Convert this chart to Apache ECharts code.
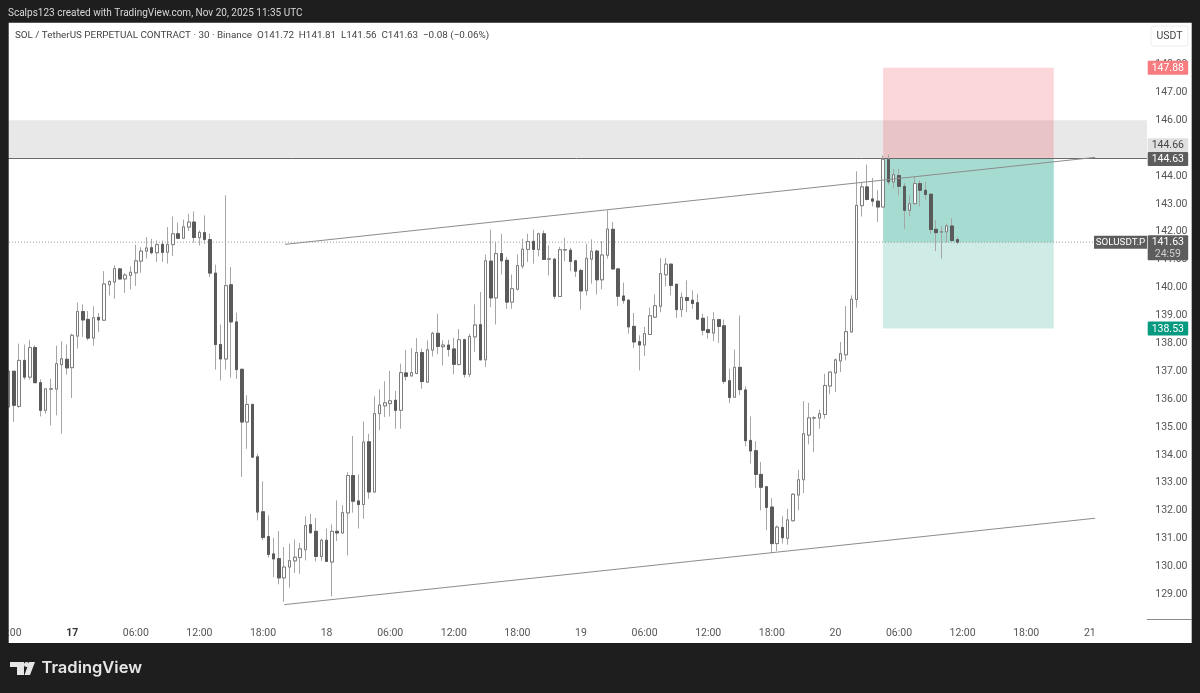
<!DOCTYPE html>
<html>
<head>
<meta charset="utf-8">
<title>SOLUSDT.P</title>
<script src="https://cdn.jsdelivr.net/npm/echarts@6/dist/echarts.min.js"></script>
<style>
  html, body { margin: 0; padding: 0; background: #1e1e1e; }
  #chart { width: 1200px; height: 693px; }
</style>
</head>
<body>
<div id="chart"></div>
<script>
// 30 minute bars, first one is Nov 16 18:00
const opens = [
  135.72,137.00,135.74,137.39,136.79,137.85,136.59,135.60,136.36,136.36,
  137.24,137.43,137.13,138.26,139.14,138.86,138.19,138.93,138.83,140.10,
  140.20,140.67,140.31,140.44,140.53,140.95,141.31,141.43,141.25,141.55,
  141.27,141.54,141.93,141.77,142.17,142.35,141.79,141.97,141.72,140.52,
  137.96,137.44,140.10,138.77,137.07,135.18,135.81,133.93,131.96,131.07,
  130.45,130.28,129.59,129.98,130.20,130.32,130.60,131.50,131.26,130.36,
  130.94,130.16,131.26,131.20,131.92,133.26,132.35,132.22,134.47,132.67,
  135.48,135.76,135.84,135.96,135.60,136.94,136.83,136.92,137.67,136.61,
  137.76,138.36,137.88,137.94,137.80,137.24,138.13,136.89,138.23,138.67,
  137.41,140.95,139.63,141.22,140.98,139.48,139.94,140.77,141.37,141.66,
  141.37,141.93,141.02,141.02,139.68,141.35,141.34,140.96,140.61,139.89,
  141.02,141.31,140.28,141.16,142.09,140.67,139.70,139.55,138.61,138.06,
  137.94,138.32,138.94,139.33,140.46,140.84,140.12,139.21,139.64,139.55,
  139.46,138.90,138.49,138.37,138.85,138.63,136.66,136.07,137.14,136.33,
  134.52,134.15,133.30,132.86,132.13,130.82,131.40,131.01,131.64,132.56,
  133.11,134.71,135.32,135.32,135.45,136.47,136.94,137.37,137.59,138.41,
  139.57,142.94,143.61,143.18,143.10,142.89,144.59,143.79,144.02,143.63,
  142.77,143.01,143.73,143.49,143.35,142.09,141.99,142.00,142.21,141.72
];
const closes = [
  137.00,135.78,137.39,136.79,137.85,136.59,135.60,136.37,136.37,137.27,
  137.45,137.12,138.29,139.14,138.84,138.19,138.92,138.84,140.13,140.22,
  140.68,140.31,140.45,140.55,140.96,141.31,141.42,141.25,141.54,141.26,
  141.55,141.93,141.77,142.18,142.35,141.80,141.98,141.73,140.52,137.96,
  137.44,140.07,138.77,137.06,135.18,135.81,133.92,131.95,131.04,130.43,
  130.27,129.59,129.98,130.21,130.33,130.63,131.47,131.21,130.36,130.94,
  130.18,131.26,131.20,131.93,133.26,132.34,132.22,134.46,132.67,135.48,
  135.79,135.87,135.94,135.60,136.95,136.82,136.95,137.67,136.63,137.77,
  138.36,137.89,137.94,137.78,137.25,138.13,136.89,138.25,138.66,137.41,
  140.96,139.63,141.22,140.96,139.48,139.96,140.79,141.38,141.65,141.37,
  141.93,141.01,141.03,139.69,141.36,141.36,140.94,140.59,139.88,141.05,
  141.30,140.28,141.17,142.10,140.67,139.69,139.54,138.59,138.05,137.94,
  138.35,138.99,139.35,140.50,140.84,140.08,139.21,139.65,139.54,139.43,
  138.87,138.47,138.39,138.85,138.61,136.64,136.06,137.14,136.34,134.51,
  134.14,133.30,132.84,132.12,130.82,131.41,131.03,131.67,132.59,133.11,
  134.76,135.33,135.33,135.48,136.49,136.97,137.41,137.63,138.42,139.58,
  142.95,143.61,143.16,143.10,142.89,144.60,143.79,144.05,143.63,142.77,
  143.01,143.73,143.49,143.34,142.08,141.97,142.00,142.21,141.69,141.63
];
const highs = [
  137.00,137.00,137.99,137.96,138.13,137.93,136.71,136.37,136.73,137.92,
  138.08,137.96,138.35,139.46,139.40,139.16,139.33,139.09,140.59,140.26,
  140.80,140.71,140.52,140.76,141.54,141.45,141.81,141.75,141.69,141.69,
  142.17,142.55,142.33,142.44,142.65,142.73,142.05,142.59,141.93,140.82,
  138.67,143.31,140.74,139.10,137.09,136.14,135.84,134.04,133.05,131.83,
  131.03,131.27,130.70,130.82,130.97,130.84,131.80,131.89,131.74,131.00,
  131.36,131.51,132.37,132.20,133.38,134.68,133.30,135.20,134.76,136.10,
  136.35,136.64,137.01,136.29,137.27,137.77,137.83,138.19,137.81,138.11,
  138.41,139.06,138.11,138.13,138.20,138.51,138.17,138.35,139.40,139.84,
  141.18,142.08,141.63,141.93,141.10,140.47,141.19,141.75,141.93,142.08,
  141.97,142.05,141.51,141.07,141.46,141.79,141.43,141.00,140.68,141.57,
  141.73,141.36,141.67,142.77,142.35,140.67,140.18,139.58,139.09,138.29,
  138.59,139.28,139.76,141.06,141.06,140.86,140.14,139.82,140.26,139.90,
  139.78,139.06,138.97,139.12,138.88,138.85,137.09,137.78,139.00,136.46,
  135.38,134.49,133.75,132.87,132.45,131.47,131.80,132.07,132.63,133.47,
  135.93,135.87,135.39,135.62,136.91,136.97,137.45,138.05,139.34,139.72,
  144.17,143.75,144.41,143.93,143.49,144.74,144.77,144.26,144.26,143.75,
  143.31,143.99,143.85,143.79,143.37,142.43,142.20,142.29,142.49,141.81
];
const lows = [
  135.72,135.18,135.69,136.70,136.70,136.59,135.38,135.48,135.06,135.42,
  134.76,136.88,136.04,137.81,138.23,138.11,137.92,138.41,138.83,139.72,
  139.60,140.28,139.81,139.94,140.06,140.53,141.04,141.19,140.92,140.92,
  140.86,141.13,141.75,141.75,142.03,141.61,141.51,141.57,140.38,137.06,
  136.67,137.06,136.77,136.73,133.21,134.22,133.90,131.65,130.94,130.32,
  129.62,129.36,128.73,129.24,129.77,129.74,130.22,131.17,130.18,130.20,
  130.16,128.93,130.91,131.17,130.40,131.93,131.36,131.71,132.43,132.67,
  134.88,135.36,135.38,134.94,134.94,136.67,136.83,136.89,136.37,136.61,
  137.53,137.61,137.21,137.53,136.89,137.21,136.77,136.79,137.69,137.39,
  137.15,139.30,138.68,140.47,139.24,139.24,139.90,140.68,140.92,140.86,
  141.12,141.00,140.44,139.60,139.66,140.94,140.59,140.38,139.21,139.72,
  140.14,139.75,139.94,141.04,140.64,139.34,139.42,138.35,137.83,137.03,
  137.55,138.31,138.92,139.12,140.04,139.72,138.91,138.94,139.12,139.24,
  138.85,138.29,138.17,138.08,138.02,136.55,135.86,136.07,136.14,134.31,
  133.69,132.81,132.01,131.30,130.48,130.55,130.82,130.78,131.62,132.01,
  132.63,134.38,134.10,134.94,135.30,136.17,136.26,136.97,137.39,138.38,
  139.28,142.55,143.13,142.91,142.35,142.89,143.69,143.57,143.31,142.11,
  142.55,143.01,142.91,143.15,141.93,141.31,141.04,141.62,141.67,141.56
];

const barCount = 216;
// one label every 12 bars (6 hours)
const tickLabels = ['18:00','17','06:00','12:00','18:00','18','06:00','12:00','18:00','19','06:00','12:00',
  '18:00','20','06:00','12:00','18:00','21','06:00'];
const priceTicks = [129,130,131,132,133,134,135,136,137,138,139,140,141,142,143,144,145,146,147,148];

// drawing tools, x in bar numbers
const entryPrice = 144.63;
const stopPrice = 147.88;
const targetPrice = 138.53;
const lastPrice = 141.63;
const zoneTop = 146;
const zoneBottom = 144.66;
const boxStartBar = 165;
const boxEndBar = 197.2;
const chartEndBar = 214.8;
const upperTrend = [[52.15, 141.55], [205, 144.67]];
const lowerTrend = [[52, 128.63], [205, 131.73]];

const categories = Array.from({ length: barCount }, (_, i) =>
  i % 12 === 0 ? tickLabels[i / 12] : '')
const fullBars = opens.map((o, i) => [o, closes[i], lows[i], highs[i]])
const bodyBars = opens.map((o, i) => [o, closes[i], Math.min(o, closes[i]), Math.max(o, closes[i])])

const FONT = 'Roboto, "Noto Sans", sans-serif'
const DARK = '#1e1e1e'
const GREEN = '#089981'

const chart = echarts.init(document.getElementById('chart'))

function overlayLine(name, points, color, type, z) {
  return {
    name, type: 'line', xAxisIndex: 1, yAxisIndex: 0, data: points, z,
    symbol: 'none', silent: true, lineStyle: { color, width: 1, type },
  }
}

chart.setOption({
  animation: false,
  backgroundColor: '#fff',
  // v6 shrinks the grid to keep labels on the canvas, we want it pinned
  grid: { left: 5.95, top: 23.4, width: 1144.8, height: 598, outerBoundsMode: 'none' },
  xAxis: [
    {
      type: 'category', data: categories, boundaryGap: true,
      axisLine: { show: false }, axisTick: { show: false }, splitLine: { show: false },
      axisLabel: {
        interval: (i) => i % 12 === 0,
        hideOverlap: false, margin: 6.5, color: '#555', fontSize: 10.5, fontFamily: FONT,
        formatter: (v) => (v === '17' ? '{b|17}' : v),
        rich: { b: { fontWeight: 'bold', color: '#333', fontSize: 10.5, fontFamily: FONT } },
      },
    },
    { type: 'value', min: -0.5, max: barCount - 0.5, show: false },
  ],
  yAxis: {
    type: 'value', position: 'right', min: 128.03, max: 149.474, scale: true,
    axisLine: { show: false }, axisTick: { show: false }, splitLine: { show: false },
    axisLabel: {
      customValues: priceTicks, margin: 4.5, color: '#555', fontSize: 10.5, fontFamily: FONT,
      padding: [3, 0, 0, 0],
      formatter: (v) => v.toFixed(2),
    },
  },
  series: [
    {
      name: 'zones', type: 'line', xAxisIndex: 1, yAxisIndex: 0, data: [], z: 1, silent: true,
      markArea: {
        silent: true,
        data: [
          [{ xAxis: -0.5, yAxis: zoneTop, itemStyle: { color: '#e8e8e8', opacity: 1 } }, { xAxis: chartEndBar, yAxis: zoneBottom }],
          [{ xAxis: boxStartBar, yAxis: stopPrice, itemStyle: { color: 'rgba(242,54,69,0.2)', opacity: 1 } }, { xAxis: boxEndBar, yAxis: entryPrice }],
          [{ xAxis: boxStartBar, yAxis: entryPrice, itemStyle: { color: 'rgba(8,153,129,0.2)', opacity: 1 } }, { xAxis: boxEndBar, yAxis: targetPrice }],
          [{ xAxis: boxStartBar, yAxis: entryPrice, itemStyle: { color: 'rgba(8,153,129,0.2)', opacity: 1 } }, { xAxis: boxEndBar, yAxis: lastPrice }],
        ],
      },
    },
    overlayLine('last', [[-0.5, lastPrice], [chartEndBar, lastPrice]], '#9a9a9a', [1, 2], 2),
    overlayLine('level', [[-0.5, entryPrice], [chartEndBar, entryPrice]], '#666', 'solid', 2),
    {
      name: 'wicks', type: 'candlestick', data: fullBars, barWidth: 3, z: 3, silent: true,
      itemStyle: { color: '#fff', color0: '#5a5a5a', borderColor: '#a6a6a6', borderColor0: '#a6a6a6', borderWidth: 1 },
    },
    {
      name: 'bodies', type: 'candlestick', data: bodyBars, barWidth: 3, z: 4, silent: true,
      itemStyle: { color: '#fff', color0: '#5a5a5a', borderColor: '#7c7c7c', borderColor0: '#5a5a5a', borderWidth: 1 },
    },
    overlayLine('upper', upperTrend, '#8c8c8c', 'solid', 5),
    overlayLine('lower', lowerTrend, '#8c8c8c', 'solid', 5),
  ],
})

// price tags sit on the axis, y comes from the axis scale
function priceTag(value, bg, fg, shift, extra) {
  const y = chart.convertToPixel({ yAxisIndex: 0 }, value) + shift
  const h = extra ? 25 : 14
  const top = y - 7
  const items = [
    { type: 'rect', z: 60, shape: { x: 1147.7, y: top, width: 40.5, height: h, r: 1 }, style: { fill: bg } },
    { type: 'text', z: 61, style: { x: 1167.8, y: y + 0.5, text: value.toFixed(2), fill: fg, font: '10.5px ' + FONT, textAlign: 'center', textVerticalAlign: 'middle' } },
  ]
  if (extra) {
    items.push({ type: 'text', z: 61, style: { x: 1167.8, y: y + 12.5, text: extra, fill: '#cfcfcf', font: '10.5px ' + FONT, textAlign: 'center', textVerticalAlign: 'middle' } })
  }
  return items
}

function frameRect(x, y, width, height) {
  return { type: 'rect', z: 50, shape: { x, y, width, height }, style: { fill: DARK } }
}

function caption(x, y, text, fill, font) {
  return { type: 'text', z: 51, style: { x, y, text, fill, font, textVerticalAlign: 'middle' } }
}

const lastY = chart.convertToPixel({ yAxisIndex: 0 }, lastPrice)

chart.setOption({
  graphic: [
    frameRect(0, 0, 1200, 22.7),
    frameRect(0, 643, 1200, 50),
    frameRect(0, 0, 8.7, 693),
    frameRect(1191.7, 0, 8.3, 693),
    caption(8, 13.6, 'Scalps123 created with TradingView.com, Nov 20, 2025 11:35 UTC', '#d8d8d8', '10px ' + FONT),
    caption(15, 35.6, 'SOL / TetherUS PERPETUAL CONTRACT · 30 · Binance  O141.72  H141.81  L141.56  C141.63  −0.08 (−0.06%)', '#444', '9.85px ' + FONT),

    { type: 'rect', z: 50, shape: { x: 1151, y: 26, width: 37, height: 20, r: 3 }, style: { fill: '#fff', stroke: '#eeeeee', lineWidth: 1 } },
    { type: 'text', z: 51, style: { x: 1169.5, y: 36, text: 'USDT', fill: '#444', font: '10.5px ' + FONT, textAlign: 'center', textVerticalAlign: 'middle' } },

    // short axis rule under the price labels
    { type: 'rect', z: 50, shape: { x: 1147, y: 619, width: 45, height: 1 }, style: { fill: '#8a8a8a' } },

    ...priceTag(stopPrice, '#f77c80', '#fff', 0),
    ...priceTag(zoneBottom, '#e0e0e0', '#444', -12.5),
    ...priceTag(entryPrice, '#5d5d5d', '#fff', 0.5),
    ...priceTag(lastPrice, '#5d5d5d', '#fff', 0, '24:59'),
    ...priceTag(targetPrice, GREEN, '#fff', 0),

    { type: 'rect', z: 60, shape: { x: 1094, y: lastY - 6.5, width: 53, height: 13 }, style: { fill: '#5d5d5d' } },
    { type: 'text', z: 61, style: { x: 1120.5, y: lastY + 0.5, text: 'SOLUSDT.P', fill: '#fff', font: '9.8px ' + FONT, textAlign: 'center', textVerticalAlign: 'middle' } },

    // logo
    { type: 'polygon', z: 51, shape: { points: [[10, 662], [24, 662], [24, 675], [17, 675], [17, 667], [10, 667]] }, style: { fill: '#e6e6e6' } },
    { type: 'circle', z: 51, shape: { cx: 26.5, cy: 664.5, r: 2.5 }, style: { fill: '#e6e6e6' } },
    { type: 'polygon', z: 51, shape: { points: [[29, 662], [35, 662], [30, 675], [24.5, 675]] }, style: { fill: '#e6e6e6' } },
    { type: 'text', z: 51, style: { x: 41.5, y: 668.5, text: 'TradingView', fill: '#e6e6e6', font: '600 16.5px Inter, sans-serif', textVerticalAlign: 'middle' } },
  ],
})
</script>
</body>
</html>
